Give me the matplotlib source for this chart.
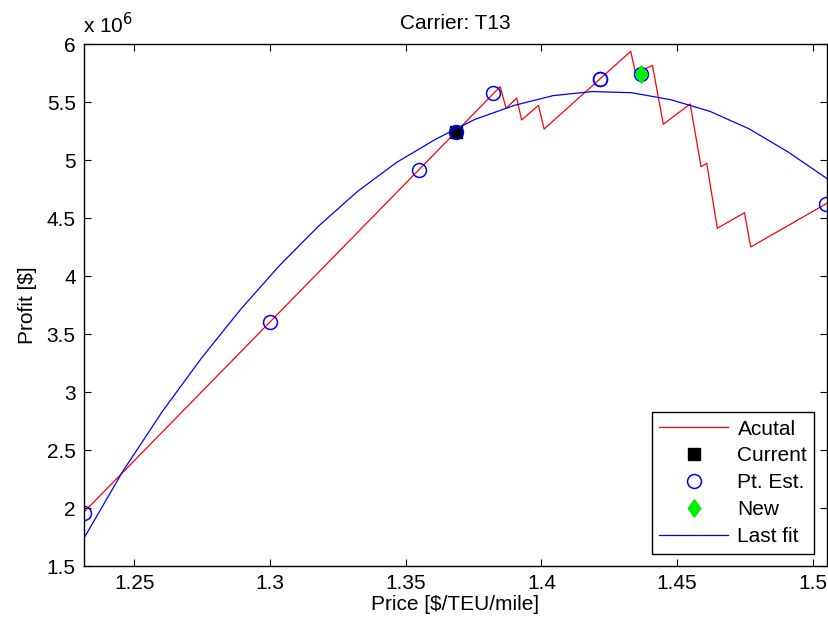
import matplotlib
matplotlib.use("Agg")
import matplotlib.pyplot as plt
from matplotlib.ticker import FuncFormatter
from matplotlib.path import Path

plt.rcParams['font.family'] = ['Liberation Sans', 'DejaVu Sans']

# Actual profit curve (price, profit in millions)
actual_price = [1.2315, 1.3848, 1.3870, 1.3909, 1.3927, 1.3989, 1.4010, 1.4329, 1.4347,
                1.4409, 1.4449, 1.4548, 1.4588, 1.4609, 1.4648, 1.4748, 1.4771, 1.5052]
actual_profit = [1.965, 5.632, 5.446, 5.534, 5.345, 5.471, 5.267, 5.937, 5.747,
                 5.816, 5.308, 5.483, 4.942, 4.971, 4.411, 4.546, 4.250, 4.627]

# Current point
current_price = [1.3685]
current_profit = [5.239]

# Point estimates
est_price = [1.2315, 1.3000, 1.3548, 1.3685, 1.3821, 1.4214, 1.4216, 1.4368, 1.5050]
est_profit = [1.960, 3.601, 4.914, 5.239, 5.575, 5.698, 5.700, 5.739, 4.621]

# New point
new_price = [1.4368]
new_profit = [5.739]

# Last fit curve
fit_price = [1.2315, 1.2459, 1.2603, 1.2747, 1.2891, 1.3035, 1.3179, 1.3323, 1.3467, 1.3611,
             1.3755, 1.3899, 1.4043, 1.4188, 1.4332, 1.4476, 1.4620, 1.4764, 1.4908, 1.5052]
fit_profit = [1.74, 2.32, 2.83, 3.29, 3.71, 4.09, 4.43, 4.73, 4.98, 5.18,
              5.35, 5.47, 5.555, 5.59, 5.58, 5.52, 5.42, 5.27, 5.07, 4.84]

x_ticks = [1.25, 1.3, 1.35, 1.4, 1.45, 1.5]
y_ticks = [1.5, 2, 2.5, 3, 3.5, 4, 4.5, 5, 5.5, 6]

diamond = Path([(0, -1), (0.72, 0), (0, 1), (-0.72, 0), (0, -1)],
               [Path.MOVETO, Path.LINETO, Path.LINETO, Path.LINETO, Path.CLOSEPOLY])

fig = plt.figure(figsize=(8.29, 6.24), dpi=100)
ax = fig.add_axes([84/829, 1-566/624, 743/829, 522/624])

fs = 15
l1, = ax.plot(actual_price, actual_profit, color='red', lw=0.9, label='Acutal')
l2, = ax.plot(current_price, current_profit, 's', color='black', ms=8.5, ls='none', label='Current')
l3, = ax.plot(est_price, est_profit, 'o', mfc='none', mec='blue', mew=1.1, ms=10, ls='none', label='Pt. Est.')
l4, = ax.plot(new_price, new_profit, marker=diamond, color='#00ee00', mec='#00ee00', ms=12.5,
              ls='none', label='New')
l5, = ax.plot(fit_price, fit_profit, color='blue', lw=0.9, label='Last fit')

ax.set_xlim(1.2315, 1.5052)
ax.set_ylim(1.5, 6)
ax.set_xticks(x_ticks)
ax.set_yticks(y_ticks)
fmt = FuncFormatter(lambda v, p: ('%g' % v))
ax.xaxis.set_major_formatter(fmt)
ax.yaxis.set_major_formatter(fmt)
ax.tick_params(direction='in', top=True, right=True, length=5, width=0.8, labelsize=fs, pad=6)
for s in ax.spines.values():
    s.set_linewidth(1.0)

ax.set_title('Carrier: T13', fontsize=fs, pad=11)
ax.set_xlabel('Price [$/TEU/mile]', fontsize=fs, labelpad=1)
ax.set_ylabel('Profit [$]', fontsize=fs, labelpad=7)
fig.text(83/829, 1-33/624, r'x 10$^6$', fontsize=fs, ha='left', va='baseline')

leg = ax.legend(handles=[l1, l2, l3, l4, l5], loc='lower right', fontsize=fs,
                frameon=True, fancybox=False, edgecolor='black', framealpha=1,
                handlelength=3.3, borderaxespad=0.6, labelspacing=0.38,
                handletextpad=0.45, borderpad=0.35)
leg.get_frame().set_linewidth(1.0)

fig.savefig('out.png', dpi=100)
